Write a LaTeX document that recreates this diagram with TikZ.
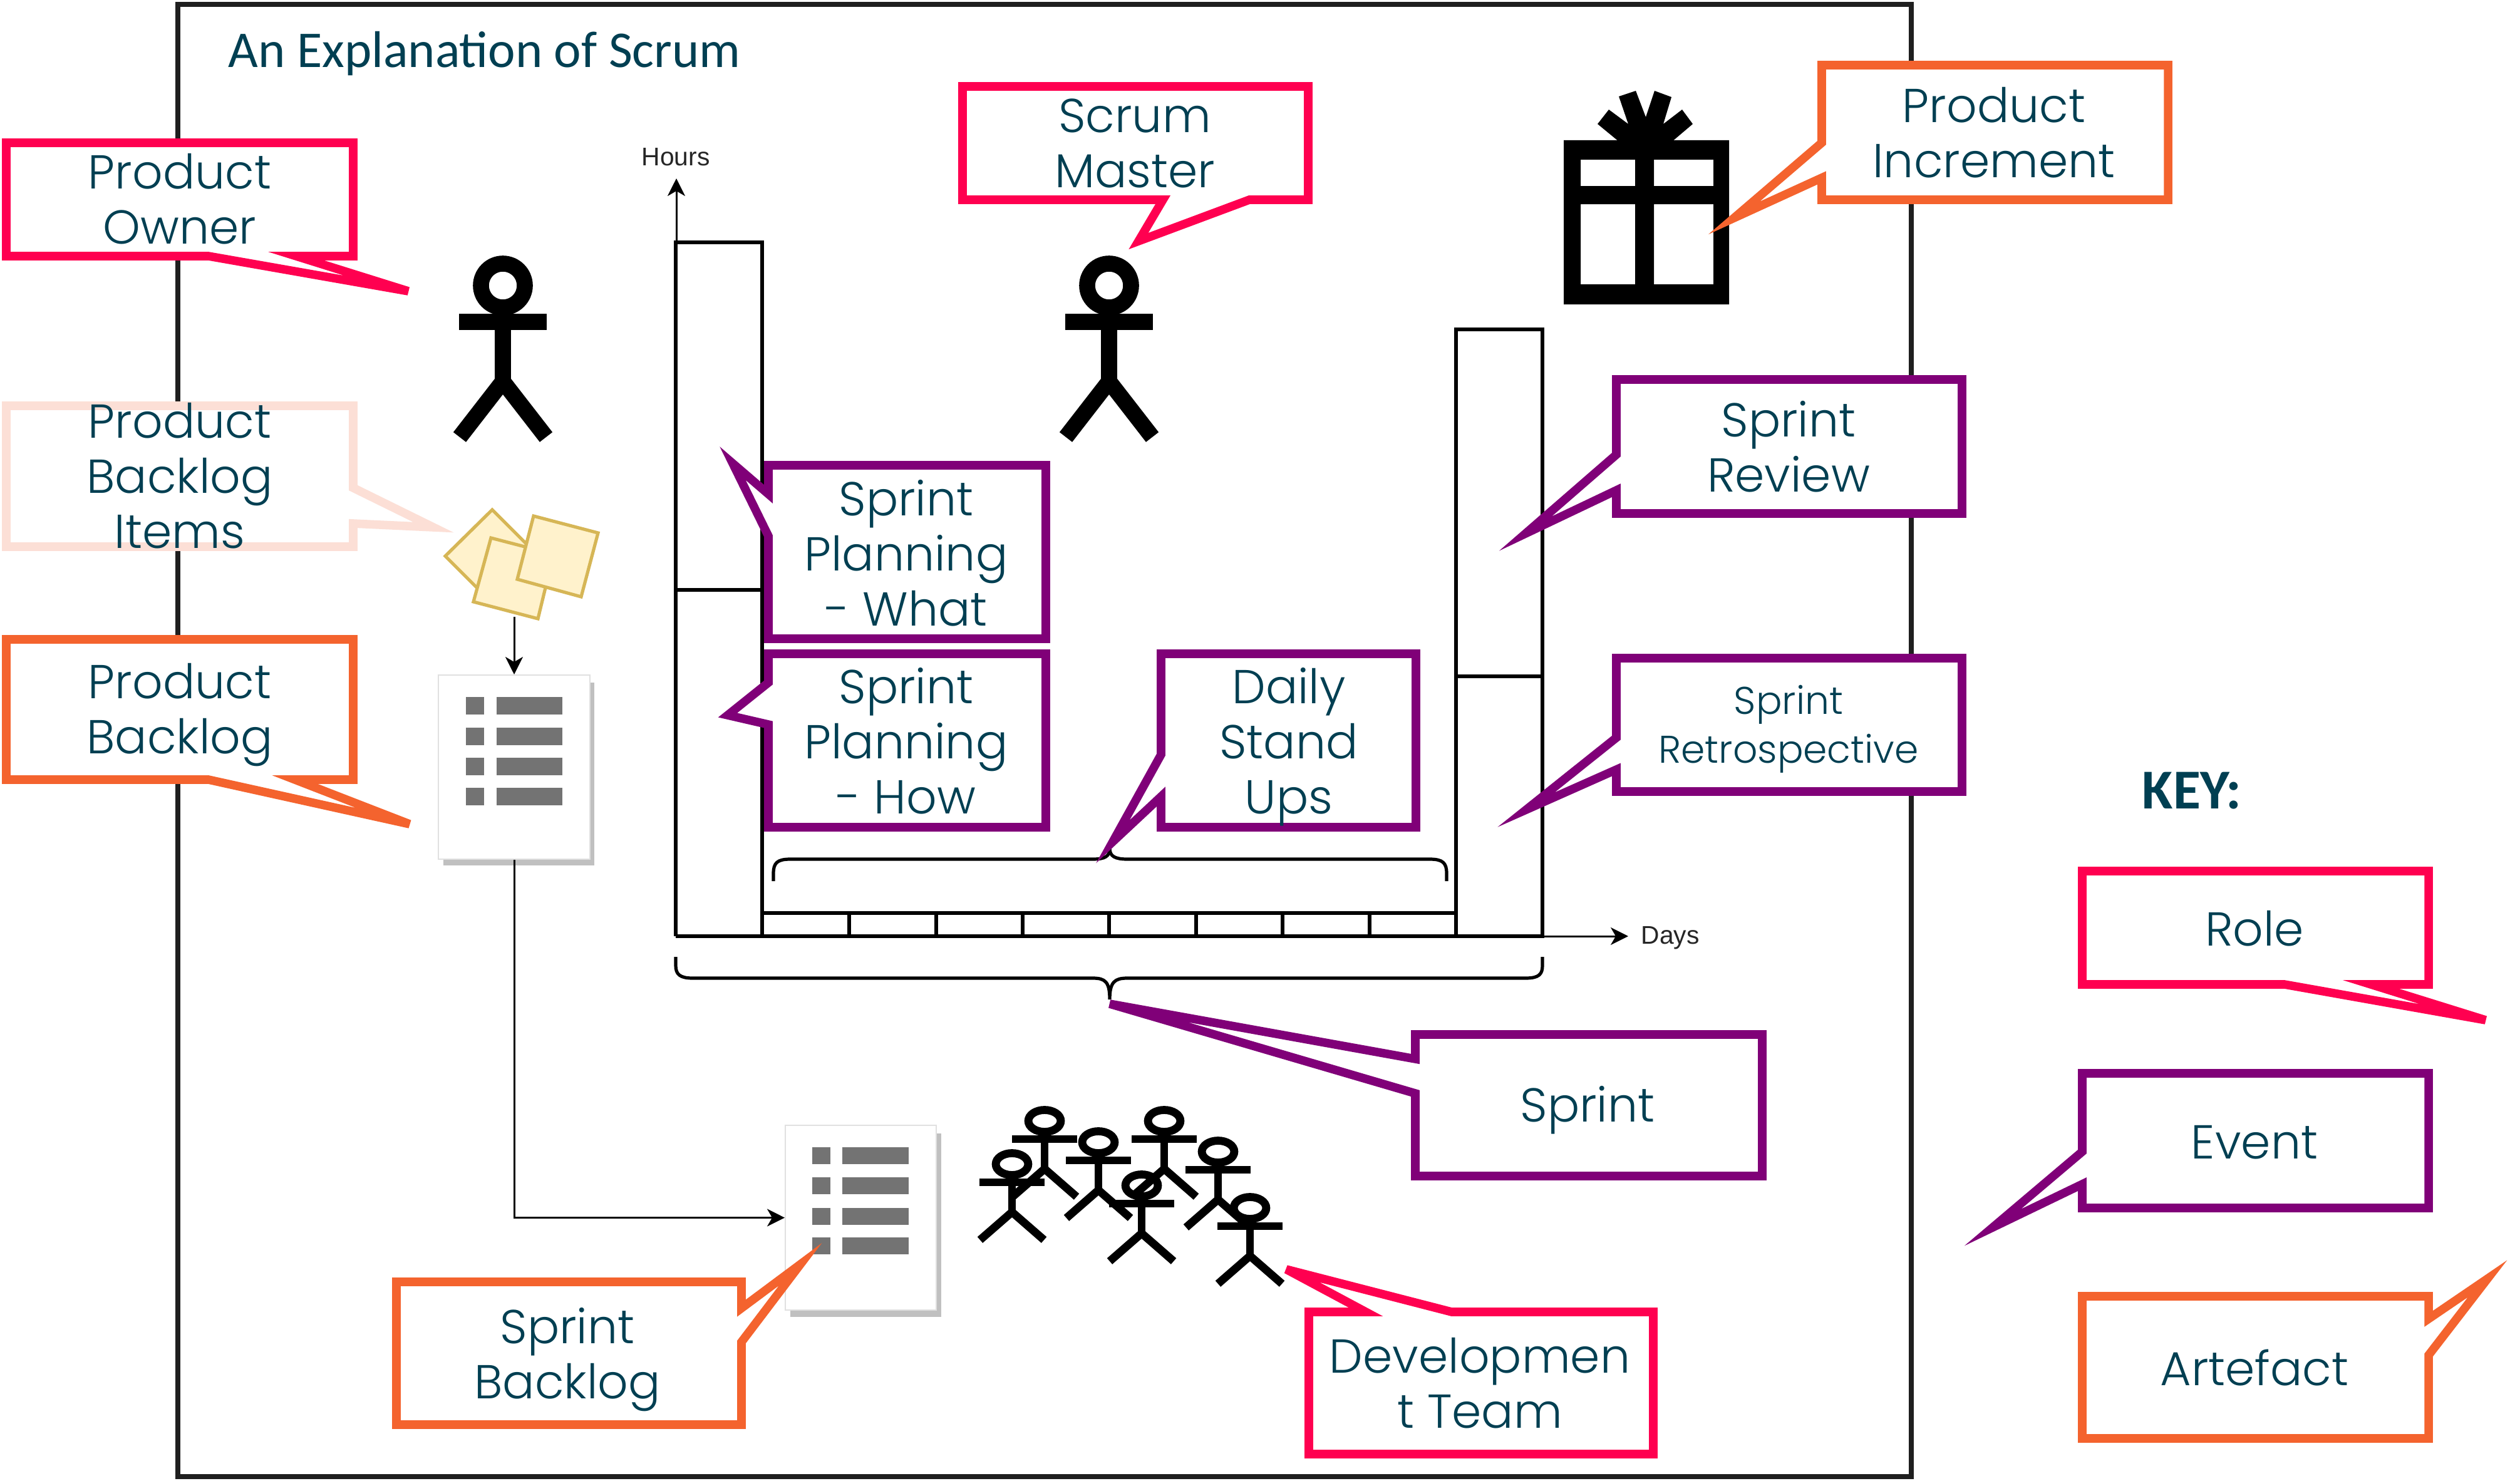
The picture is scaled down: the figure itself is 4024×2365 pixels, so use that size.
\documentclass[tikz,border=0pt]{standalone}
\usepackage{fontspec}
\setmainfont{Poppins}[UprightFont={* Light}]
\newfontfamily\titlefont{Carlito}
\newfontfamily\axisfont{Liberation Sans}
\usetikzlibrary{arrows.meta}
\definecolor{txt}{HTML}{003F52}
\definecolor{rolec}{HTML}{FF0050}
\definecolor{eventc}{HTML}{800078}
\definecolor{artc}{HTML}{F4632E}
\definecolor{itemc}{HTML}{FCDFD6}
\definecolor{noteF}{HTML}{FFF2CC}
\definecolor{noteS}{HTML}{D6B656}
\definecolor{docS}{HTML}{C0C0C0}
\definecolor{docB}{HTML}{737373}
\newcommand{\stickman}[5]{%
  \begin{scope}[shift={(#1,#2)},xscale=#3,yscale=#4,line width=#5,draw=black]
    \draw (0,0) ellipse [x radius=35,y radius=35];
    \draw (-70,58) -- (70,58);
    \draw (0,35) -- (0,153);
    \draw[line join=miter] (-69,242) -- (0,153) -- (69,242);
  \end{scope}}
\newcommand{\docrows}[6]{% x1 x2 x3 x4 ; y list ; height
  \foreach \yy in {#5} {
    \fill[docB] (#1,\yy) rectangle (#2,\yy+#6);
    \fill[docB] (#3,\yy) rectangle (#4,\yy+#6);
  }}
\tikzset{
  x=0.25pt,y=-0.25pt,
  callout/.style={line width=3.4pt,fill=white,line join=miter,miter limit=8},
  role/.style={callout,draw=rolec},
  event/.style={callout,draw=eventc},
  artefact/.style={callout,draw=artc},
  item/.style={callout,draw=itemc},
  lbl/.style={text=txt,align=center,inner sep=0pt,font=\fontsize{19pt}{22pt}\selectfont},
  chart/.style={draw=black,line width=1.5pt},
  brace/.style={draw=black,line width=1.3pt},
  conn/.style={draw=black,line width=0.75pt,-{Stealth[length=7pt,width=7pt,inset=2pt]}},
  note/.style={fill=noteF,draw=noteS,line width=1.3pt,line join=miter},
  docpage/.style={draw=black!12,fill=white,line width=0.5pt,inner sep=0pt},
  axislbl/.style={text=black!85,inner sep=0pt,font=\axisfont\fontsize{10.2pt}{12pt}\selectfont},
}
\begin{document}
\begin{tikzpicture}
\useasboundingbox (0,0) rectangle (4024,2365);
\fill[white] (0,0) rectangle (4024,2365);
% frame
\draw[draw=black!88,line width=1.8pt] (284,7) rectangle (3052,2358);
\node[anchor=west,inner sep=0pt,text=txt,font=\titlefont\fontsize{20.6pt}{24pt}\selectfont] (title) at (364,86) {An Explanation of Scrum};
% chart
\coordinate (origin) at (1080,1495);
\coordinate (hourstip) at (1080,285);
\coordinate (barend) at (2463,1495);
\coordinate (daystip) at (2600,1495);
\draw[conn] (origin) -- (hourstip);
\draw[conn] (barend) -- (daystip);
\node[axislbl] (hours) at (1079,251) {Hours};
\node[axislbl,anchor=west] (days) at (2620,1498) {Days};
\draw[chart] (1079,1495) -- (2463,1495) -- (2463,526) -- (2325,526) -- (2325,1495);
\draw[chart] (1079,1495) -- (1079,387) -- (1217,387) -- (1217,1495);
\draw[chart] (1079,942) -- (1217,942);
\draw[chart] (2325,1080) -- (2463,1080);
\draw[chart] (1217,1458) -- (2325,1458);
\foreach \tx in {1356,1495,1633,1771,1910,2048,2187} \draw[chart] (\tx,1458) -- (\tx,1495);
% braces
\draw[brace] (1235,1407) -- (1235,1395) .. controls (1235,1378) and (1241,1372) .. (1262,1372) -- (1745,1372) .. controls (1765,1372) and (1772,1367) .. (1772,1355) .. controls (1772,1367) and (1780,1372) .. (1800,1372) -- (2283,1372) .. controls (2304,1372) and (2310,1378) .. (2310,1395) -- (2310,1407);
\draw[brace] (1079,1528) -- (1079,1542) .. controls (1079,1556) and (1086,1562) .. (1106,1562) -- (1745,1562) .. controls (1765,1562) and (1772,1568) .. (1772,1596) .. controls (1772,1568) and (1780,1562) .. (1800,1562) -- (2436,1562) .. controls (2457,1562) and (2463,1556) .. (2463,1542) -- (2463,1528);
% gift
\fill[black,even odd rule] (2497,224) rectangle (2761,486)
  (2524,255) rectangle (2611,297) (2641,255) rectangle (2736,297)
  (2524,326) rectangle (2611,454) (2641,326) rectangle (2736,454);
\fill[black] (2551,198) -- (2569,175) -- (2600,198) -- (2585,154) -- (2612,145) -- (2628,187) -- (2642,145) -- (2669,155) -- (2656,198) -- (2686,175) -- (2703,198) -- (2670,226) -- (2585,226) -- cycle;
% figures
\stickman{803}{456}{1}{1}{6.4pt}
\stickman{1771}{456}{1}{1}{6.4pt}
\stickman{1668}{1790}{0.74}{0.5}{3.2pt}
\stickman{1859}{1790}{0.74}{0.5}{3.2pt}
\stickman{1754}{1824}{0.74}{0.5}{3.2pt}
\stickman{1945}{1839}{0.74}{0.5}{3.2pt}
\stickman{1616}{1859}{0.74}{0.5}{3.2pt}
\stickman{1823}{1893}{0.74}{0.5}{3.2pt}
\stickman{1996}{1929}{0.74}{0.5}{3.2pt}
% notes
\draw[note] (786,814) -- (711,888) -- (784,961) -- (859,887) -- cycle;
\draw[note] (784,859) -- (756,961) -- (859,988) -- (884,885) -- cycle;
\draw[note] (852,824) -- (955,851) -- (928,953) -- (826,925) -- cycle;
\coordinate (notes) at (821,985);
% documents
\fill[docS] (708,1090) rectangle (949,1382);
\node[docpage,minimum width=60.5pt,minimum height=73.5pt] (pbdoc) at (821,1225) {};
\docrows{744}{773}{793}{898}{1113,1162,1210,1258}{28}
\fill[docS] (1262,1810) rectangle (1503,2103);
\node[docpage,minimum width=60.25pt,minimum height=73.75pt] (sbdoc) at (1374.5,1944.5) {};
\docrows{1297}{1326}{1345}{1451}{1832,1880,1929,1976}{27}
\draw[conn] (notes) -- (pbdoc.north);
\draw[conn] (pbdoc.south) |- (sbdoc.west);
% callouts
\draw[role] (10,228) -- (564,228) -- (564,409) -- (473,409) -- (652,465) -- (333,409) -- (10,409) -- cycle;
\node[lbl] (po) at (287,318) {Product\\Owner};
\draw[item] (10,648) -- (564,648) -- (564,779) -- (692,842) -- (564,836) -- (564,873) -- (10,873) -- cycle;
\node[lbl] (pbi) at (287,760) {Product\\Backlog\\Items};
\draw[artefact] (10,1021) -- (564,1021) -- (564,1245) -- (471,1245) -- (654,1316) -- (333,1245) -- (10,1245) -- cycle;
\node[lbl] (pb) at (287,1142) {Product\\Backlog};
\draw[role] (1537,138) -- (2089,138) -- (2089,319) -- (1995,319) -- (1818,385) -- (1857,319) -- (1537,319) -- cycle;
\node[lbl] (sm) at (1812,229) {Scrum\\Master};
\draw[artefact] (2909,104) -- (3462,104) -- (3462,319) -- (2909,319) -- (2909,284) -- (2769,348) -- (2909,228) -- cycle;
\node[lbl] (pi) at (3184,212) {Product\\Increment};
\draw[event] (2581,606) -- (3133,606) -- (3133,820) -- (2581,820) -- (2581,783) -- (2436,852) -- (2581,726) -- cycle;
\node[lbl] (sr) at (2856,713) {Sprint\\Review};
\draw[event] (2581,1051) -- (3133,1051) -- (3133,1264) -- (2581,1264) -- (2581,1229) -- (2437,1293) -- (2581,1178) -- cycle;
\node[lbl,font=\fontsize{15.4pt}{19.5pt}\selectfont] (retro) at (2856,1164) {Sprint\\Retrospective};
\draw[event] (1227,743) -- (1670,743) -- (1670,1020) -- (1227,1020) -- (1227,856) -- (1170,740) -- (1227,789) -- cycle;
\node[lbl] (what) at (1447,883) {Sprint\\Planning\\- What};
\draw[event] (1227,1044) -- (1670,1044) -- (1670,1321) -- (1227,1321) -- (1227,1157) -- (1162,1142) -- (1227,1090) -- cycle;
\node[lbl] (how) at (1447,1183) {Sprint\\Planning\\- How};
\draw[event] (1854,1044) -- (2261,1044) -- (2261,1321) -- (1854,1321) -- (1854,1272) -- (1777,1344) -- (1854,1205) -- cycle;
\node[lbl] (daily) at (2058,1193) {Daily\\Stand\\Ups};
\draw[event] (2260,1652) -- (2814,1652) -- (2814,1878) -- (2260,1878) -- (2260,1746) -- (1772,1603) -- (2260,1691) -- cycle;
\node[lbl] (sprint) at (2535,1773) {Sprint};
\draw[role] (2090,2095) -- (2181,2095) -- (2054,2027) -- (2318,2095) -- (2640,2095) -- (2640,2322) -- (2090,2322) -- cycle;
\node[lbl] (dev) at (2363,2209) {Developmen\\t Team};
\draw[artefact] (633,2047) -- (1184,2047) -- (1184,2089) -- (1278,2019) -- (1184,2143) -- (1184,2275) -- (633,2275) -- cycle;
\node[lbl] (sb) at (906,2171) {Sprint\\Backlog};
% key
\node[inner sep=0pt,text=txt,font=\titlefont\bfseries\fontsize{22.5pt}{26pt}\selectfont] (key) at (3500,1263) {KEY:};
\draw[role] (3325,1391) -- (3878,1391) -- (3878,1572) -- (3786,1572) -- (3969,1629) -- (3648,1572) -- (3325,1572) -- cycle;
\node[lbl] (rolek) at (3600,1483) {Role};
\draw[event] (3325,1714) -- (3878,1714) -- (3878,1929) -- (3325,1929) -- (3325,1891) -- (3182,1960) -- (3325,1839) -- cycle;
\node[lbl] (eventk) at (3600,1824) {Event};
\draw[artefact] (3325,2070) -- (3878,2070) -- (3878,2106) -- (3972,2042) -- (3878,2164) -- (3878,2297) -- (3325,2297) -- cycle;
\node[lbl] (artk) at (3600,2184) {Artefact};
\end{tikzpicture}
\end{document}
